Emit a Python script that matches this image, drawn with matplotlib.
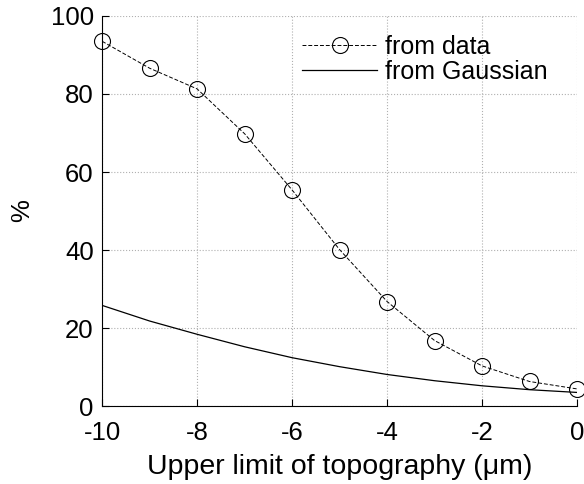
import matplotlib.pyplot as plt

plt.rcParams['font.family'] = ['Liberation Sans', 'DejaVu Sans']
plt.rcParams['axes.unicode_minus'] = False

# upper limit of topography (um)
limits = [-10, -9, -8, -7, -6, -5, -4, -3, -2, -1, 0]
from_data = [93.5, 86.6, 81.3, 69.8, 55.4, 40.1, 26.8, 16.8, 10.3, 6.3, 4.4]
from_gauss = [25.8, 21.8, 18.4, 15.2, 12.4, 10.1, 8.1, 6.5, 5.2, 4.2, 3.5]

fig = plt.figure(figsize=(5.84, 4.84), dpi=100)
ax = fig.add_axes([0.175, 0.161, 0.813, 0.806])

ax.plot(limits, from_data, color='black', linestyle='--', linewidth=0.7,
        dashes=(4, 2), marker='o', markersize=11.5, markerfacecolor='none',
        markeredgewidth=0.8, clip_on=False, label='from data')
ax.plot(limits, from_gauss, color='black', linewidth=0.9, label='from Gaussian')

ax.set_xlim(-10, 0)
ax.set_ylim(0, 100)
ax.set_xticks([-10, -8, -6, -4, -2, 0])
ax.set_yticks([0, 20, 40, 60, 80, 100])
ax.tick_params(direction='in', labelsize=18.5, length=5, width=0.8, pad=6)
ax.tick_params(axis='x', pad=11)
ax.grid(True, linestyle=':', color='#b0b0b0', linewidth=0.8)
for s in ['top', 'right']:
    ax.spines[s].set_visible(False)
ax.spines['left'].set_linewidth(0.8)
ax.spines['bottom'].set_linewidth(0.8)

ax.set_xlabel('Upper limit of topography (\u03bcm)', fontsize=20.5, labelpad=6)
ax.set_ylabel('%', fontsize=18.5, labelpad=12)

ax.legend(loc='upper right', frameon=False, fontsize=18, handlelength=3.0,
          borderaxespad=0.5, bbox_to_anchor=(0.985, 1.01),
          labelspacing=0.05, handletextpad=0.3)

fig.savefig('out.png', dpi=100)
